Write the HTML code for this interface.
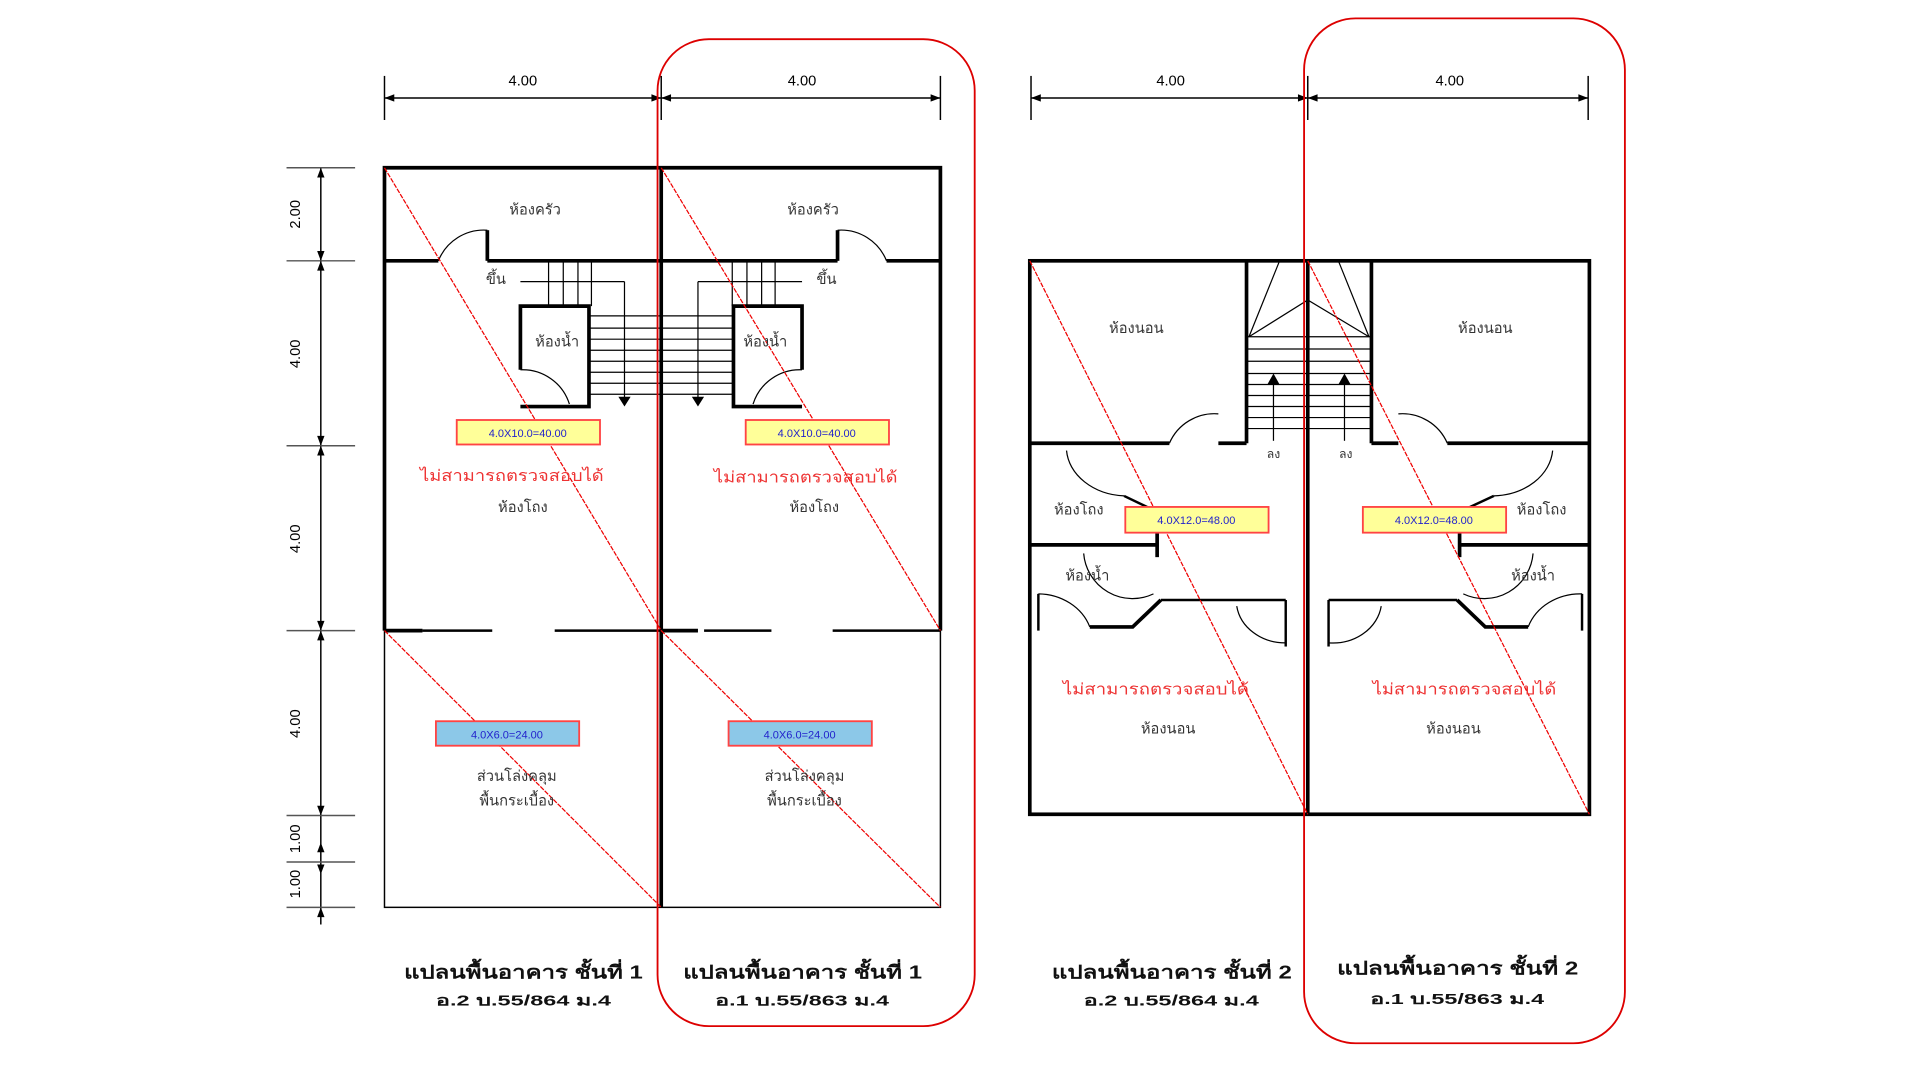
<!DOCTYPE html>
<html><head><meta charset="utf-8"><style>
html,body{margin:0;padding:0;background:#fff;}
svg{display:block;}
text{font-family:"Liberation Sans","DejaVu Sans",sans-serif;}
</style></head><body>
<svg width="1920" height="1080" viewBox="0 0 1568 882" xmlns="http://www.w3.org/2000/svg">
<rect width="1568" height="882" fill="#fff"/>
<g stroke="#000" stroke-width="1.2" fill="none">
 <line x1="314" y1="80" x2="768" y2="80"/>
 <line x1="314" y1="62" x2="314" y2="98"/><line x1="540" y1="62" x2="540" y2="98"/><line x1="768" y1="62" x2="768" y2="98"/>
 <line x1="842" y1="80" x2="1297" y2="80"/>
 <line x1="842" y1="62" x2="842" y2="98"/><line x1="1068" y1="62" x2="1068" y2="98"/><line x1="1297" y1="62" x2="1297" y2="98"/>
 <line x1="262" y1="137" x2="262" y2="755"/>
 <g stroke="#555"><line x1="234" y1="137" x2="290" y2="137"/><line x1="234" y1="213" x2="290" y2="213"/><line x1="234" y1="364" x2="290" y2="364"/><line x1="234" y1="515" x2="290" y2="515"/><line x1="234" y1="666" x2="290" y2="666"/><line x1="234" y1="704" x2="290" y2="704"/><line x1="234" y1="741" x2="290" y2="741"/></g>
</g>
<g fill="#000">
 <path d="M314 80l8-3v6z"/><path d="M540 80l-8-3v6z"/><path d="M540 80l8-3v6z"/><path d="M768 80l-8-3v6z"/>
 <path d="M842 80l8-3v6z"/><path d="M1068 80l-8-3v6z"/><path d="M1068 80l8-3v6z"/><path d="M1297 80l-8-3v6z"/>
 <path d="M262 137l-3 8h6z"/><path d="M262 213l-3-8h6z"/><path d="M262 213l-3 8h6z"/><path d="M262 364l-3-8h6z"/><path d="M262 364l-3 8h6z"/><path d="M262 515l-3-8h6z"/><path d="M262 515l-3 8h6z"/><path d="M262 666l-3-8h6z"/><path d="M262 688l-3 8h6z"/><path d="M262 714l-3-8h6z"/><path d="M262 741l-3 8h6z"/>
</g>
<g font-size="12" text-anchor="middle" fill="#000">
 <text x="427" y="70">4.00</text><text x="655" y="70">4.00</text><text x="956" y="70">4.00</text><text x="1184" y="70">4.00</text>
</g>
<g font-size="12" fill="#000" text-anchor="middle">
 <text transform="translate(245,175) rotate(-90)">2.00</text>
 <text transform="translate(245,289) rotate(-90)">4.00</text>
 <text transform="translate(245,440) rotate(-90)">4.00</text>
 <text transform="translate(245,591) rotate(-90)">4.00</text>
 <text transform="translate(245,685) rotate(-90)">1.00</text>
 <text transform="translate(245,722) rotate(-90)">1.00</text>
</g>

<g stroke="#000" fill="none">
 <rect x="314" y="137" width="454" height="604" stroke-width="1.2"/>
 <g stroke-width="3">
  <polyline points="314,515 314,137 768,137 768,515"/>
  <line x1="540" y1="137" x2="540" y2="741"/>
  <line x1="314" y1="213" x2="358" y2="213"/><line x1="398" y1="213" x2="684" y2="213"/><line x1="724" y1="213" x2="768" y2="213"/>
  <line x1="398" y1="188" x2="398" y2="213"/><line x1="684" y1="188" x2="684" y2="213"/>
  <polyline points="425,302 425,250 481,250 481,332 425,332"/>
  <polyline points="655,302 655,250 599,250 599,332 655,332"/>
  <line x1="314" y1="515" x2="345" y2="515"/>
  <line x1="540" y1="515" x2="570" y2="515"/>
 </g>
 <g stroke-width="2">
  <line x1="345" y1="515" x2="402" y2="515"/><line x1="453" y1="515" x2="540" y2="515"/>
  <line x1="575" y1="515" x2="630" y2="515"/><line x1="680" y1="515" x2="768" y2="515"/>
 </g>
 <path d="M358 213 A40 40 0 0 1 398 188" stroke-width="1"/>
 <path d="M724 213 A40 40 0 0 0 684 188" stroke-width="1"/>
 <path d="M425 302 A40 40 0 0 1 465 330" stroke-width="1"/>
 <path d="M655 302 A40 40 0 0 0 615 330" stroke-width="1"/>
 <g stroke-width="1">
  <line x1="448" y1="213" x2="448" y2="250"/><line x1="460" y1="213" x2="460" y2="250"/><line x1="472" y1="213" x2="472" y2="250"/><line x1="483" y1="213" x2="483" y2="250"/>
  <line x1="598" y1="213" x2="598" y2="250"/><line x1="610" y1="213" x2="610" y2="250"/><line x1="622" y1="213" x2="622" y2="250"/><line x1="633" y1="213" x2="633" y2="250"/>
  <line x1="425" y1="230" x2="510" y2="230"/><line x1="510" y1="230" x2="510" y2="328"/>
  <line x1="655" y1="230" x2="570" y2="230"/><line x1="570" y1="230" x2="570" y2="328"/>
  <line x1="481" y1="258" x2="599" y2="258"/><line x1="481" y1="268" x2="599" y2="268"/><line x1="481" y1="277" x2="599" y2="277"/><line x1="481" y1="286" x2="599" y2="286"/><line x1="481" y1="295" x2="599" y2="295"/><line x1="481" y1="304" x2="599" y2="304"/><line x1="481" y1="313" x2="599" y2="313"/><line x1="481" y1="322" x2="599" y2="322"/>
 </g>
</g>
<path d="M505 324h10l-5 8z M565 324h10l-5 8z" fill="#000"/>

<g stroke="#000" fill="none">
 <g stroke-width="3">
  <rect x="841" y="213" width="457" height="452"/>
  <line x1="1068" y1="213" x2="1068" y2="665"/>
  <line x1="1018" y1="213" x2="1018" y2="362"/><line x1="1120" y1="213" x2="1120" y2="362"/>
  <line x1="841" y1="362" x2="955" y2="362"/><line x1="995" y1="362" x2="1018" y2="362"/>
  <line x1="1120" y1="362" x2="1142" y2="362"/><line x1="1182" y1="362" x2="1298" y2="362"/>
  <line x1="841" y1="445" x2="945" y2="445"/><line x1="1192" y1="445" x2="1298" y2="445"/>
  <line x1="945" y1="425" x2="945" y2="455"/><line x1="1192" y1="425" x2="1192" y2="455"/>
  <polyline points="890,512 925,512 948,490"/><polyline points="1248,512 1213,512 1190,490"/>
 </g>
 <g stroke-width="2">
  <line x1="948" y1="490" x2="1050" y2="490"/><line x1="1085" y1="490" x2="1190" y2="490"/>
  <line x1="1050" y1="490" x2="1050" y2="528"/><line x1="1085" y1="490" x2="1085" y2="528"/>
  <line x1="848" y1="485" x2="848" y2="515"/><line x1="1292" y1="485" x2="1292" y2="515"/>
  <line x1="918" y1="405" x2="945" y2="418"/><line x1="1220" y1="405" x2="1192" y2="418"/>
 </g>
 <g stroke-width="1">
  <path d="M955 362 A40 40 0 0 1 995 338"/><path d="M1182 362 A40 40 0 0 0 1142 338"/>
  <path d="M871 368 A50 40 0 0 0 918 405"/><path d="M1268 368 A50 40 0 0 1 1220 405"/>
  <path d="M848 485 A45 40 0 0 1 890 512"/><path d="M1292 485 A45 40 0 0 0 1248 512"/>
  <path d="M1010 495 A40 35 0 0 0 1050 525"/><path d="M1128 495 A40 35 0 0 1 1085 525"/>
  <path d="M885 452 A40 40 0 0 0 942 485"/><path d="M1252 452 A40 40 0 0 1 1195 485"/>
  <line x1="1018" y1="275" x2="1120" y2="275"/><line x1="1018" y1="285" x2="1120" y2="285"/><line x1="1018" y1="295" x2="1120" y2="295"/><line x1="1018" y1="305" x2="1120" y2="305"/><line x1="1018" y1="314" x2="1120" y2="314"/><line x1="1018" y1="323" x2="1120" y2="323"/><line x1="1018" y1="332" x2="1120" y2="332"/><line x1="1018" y1="341" x2="1120" y2="341"/><line x1="1018" y1="350" x2="1120" y2="350"/>
  <polyline points="1020,275 1045,213"/><polyline points="1020,275 1068,245 1118,275"/><polyline points="1118,275 1093,213"/>
  <line x1="1040" y1="310" x2="1040" y2="360"/><line x1="1098" y1="310" x2="1098" y2="360"/>
 </g>
</g>
<path d="M1035 314h10l-5-9z M1093 314h10l-5-9z" fill="#000"/>

<g stroke="#e00" stroke-width="1" stroke-dasharray="4,1" fill="none">
 <line x1="314" y1="137" x2="540" y2="515"/><line x1="314" y1="515" x2="540" y2="741"/>
 <line x1="540" y1="137" x2="768" y2="515"/><line x1="540" y1="515" x2="768" y2="741"/>
 <line x1="841" y1="213" x2="1068" y2="665"/><line x1="1068" y1="213" x2="1298" y2="665"/>
</g>
<g stroke="#d00" stroke-width="1.5" fill="none">
 <rect x="537" y="32" width="259" height="806" rx="42"/>
 <rect x="1065" y="15" width="262" height="837" rx="42"/>
</g>

<g font-size="9" text-anchor="middle" fill="#22c">
 <rect x="373" y="343" width="117" height="20" fill="#ffff99" stroke="#f44" stroke-width="1.5"/><text x="431" y="357">4.0X10.0=40.00</text>
 <rect x="609" y="343" width="117" height="20" fill="#ffff99" stroke="#f44" stroke-width="1.5"/><text x="667" y="357">4.0X10.0=40.00</text>
 <rect x="356" y="589" width="117" height="20" fill="#8cc8e8" stroke="#f44" stroke-width="1.5"/><text x="414" y="603">4.0X6.0=24.00</text>
 <rect x="595" y="589" width="117" height="20" fill="#8cc8e8" stroke="#f44" stroke-width="1.5"/><text x="653" y="603">4.0X6.0=24.00</text>
 <rect x="919" y="414" width="117" height="21" fill="#ffff99" stroke="#f44" stroke-width="1.5"/><text x="977" y="428">4.0X12.0=48.00</text>
 <rect x="1113" y="414" width="117" height="21" fill="#ffff99" stroke="#f44" stroke-width="1.5"/><text x="1171" y="428">4.0X12.0=48.00</text>
</g>

<g font-size="12" fill="#333" text-anchor="middle">
 <text x="437" y="175">ห้องครัว</text><text x="664" y="175">ห้องครัว</text>
 <text x="405" y="232">ขึ้น</text><text x="675" y="232">ขึ้น</text>
 <text x="455" y="283">ห้องน้ำ</text><text x="625" y="283">ห้องน้ำ</text>
 <text x="427" y="418">ห้องโถง</text><text x="665" y="418">ห้องโถง</text>
 <text x="422" y="638">ส่วนโล่งคลุม</text><text x="422" y="658">พื้นกระเบื้อง</text>
 <text x="657" y="638">ส่วนโล่งคลุม</text><text x="657" y="658">พื้นกระเบื้อง</text>
 <text x="928" y="272">ห้องนอน</text><text x="1213" y="272">ห้องนอน</text>
 <text x="881" y="420">ห้องโถง</text><text x="1259" y="420">ห้องโถง</text>
 <text x="888" y="474">ห้องน้ำ</text><text x="1252" y="474">ห้องน้ำ</text>
 <text x="1040" y="374" font-size="10">ลง</text><text x="1099" y="374" font-size="10">ลง</text>
 <text x="954" y="599">ห้องนอน</text><text x="1187" y="599">ห้องนอน</text>
</g>
<g font-size="13" fill="#e33">
 <text x="343" y="393" textLength="150" lengthAdjust="spacingAndGlyphs">ไม่สามารถตรวจสอบได้</text>
 <text x="583" y="394" textLength="150" lengthAdjust="spacingAndGlyphs">ไม่สามารถตรวจสอบได้</text>
 <text x="868" y="567" textLength="152" lengthAdjust="spacingAndGlyphs">ไม่สามารถตรวจสอบได้</text>
 <text x="1121" y="567" textLength="150" lengthAdjust="spacingAndGlyphs">ไม่สามารถตรวจสอบได้</text>
</g>
<g font-size="15" font-weight="bold" fill="#111">
 <text x="330" y="799" textLength="195" lengthAdjust="spacingAndGlyphs">แปลนพื้นอาคาร ชั้นที่ 1</text>
 <text x="558" y="799" textLength="195" lengthAdjust="spacingAndGlyphs">แปลนพื้นอาคาร ชั้นที่ 1</text>
 <text x="859" y="799" textLength="196" lengthAdjust="spacingAndGlyphs">แปลนพื้นอาคาร ชั้นที่ 2</text>
 <text x="1092" y="796" textLength="197" lengthAdjust="spacingAndGlyphs">แปลนพื้นอาคาร ชั้นที่ 2</text>
</g>
<g font-size="12" font-weight="bold" fill="#111">
 <text x="356" y="821" textLength="143" lengthAdjust="spacingAndGlyphs">อ.2 บ.55/864 ม.4</text>
 <text x="584" y="821" textLength="142" lengthAdjust="spacingAndGlyphs">อ.1 บ.55/863 ม.4</text>
 <text x="885" y="821" textLength="143" lengthAdjust="spacingAndGlyphs">อ.2 บ.55/864 ม.4</text>
 <text x="1119" y="820" textLength="142" lengthAdjust="spacingAndGlyphs">อ.1 บ.55/863 ม.4</text>
</g>
</svg>
</body></html>
